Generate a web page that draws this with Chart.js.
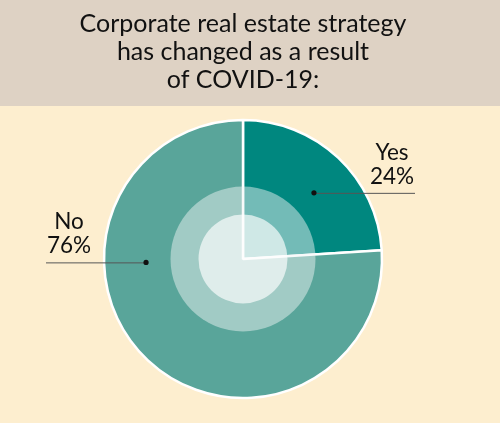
<!DOCTYPE html>
<html>
<head>
<meta charset="utf-8">
<script src="https://cdn.jsdelivr.net/npm/chart.js@4/dist/chart.umd.min.js"></script>
<style>
  html, body { margin: 0; padding: 0; background: #fdeecf; }
  #wrap { position: relative; width: 500px; height: 423px; }
</style>
</head>
<body>
<div id="wrap"><canvas id="chart"></canvas></div>
<script>
const categories = ["Yes", "No"];
const shares = [24, 76];
const sliceColors = ["#00877f", "#59a59a"];
const titleLines = ["Corporate real estate strategy", "has changed as a result", "of COVID-19:"];

// header band + cream background
const backdrop = {
  id: "backdrop",
  beforeDraw(chart) {
    const c = chart.ctx;
    c.save();
    c.fillStyle = "#fdeecf";
    c.fillRect(0, 0, chart.width, chart.height);
    c.fillStyle = "#ded2c4";
    c.fillRect(0, 0, chart.width, 106);
    c.restore();
  }
};

// the two pale discs in the middle of the pie
const innerDiscs = {
  id: "innerDiscs",
  afterDatasetsDraw(chart) {
    const arc = chart.getDatasetMeta(0).data[0];
    const c = chart.ctx;
    c.save();
    c.fillStyle = "rgba(240,245,245,0.48)";
    c.beginPath();
    c.arc(arc.x, arc.y, 72.5, 0, Math.PI * 2);
    c.fill();
    c.fillStyle = "rgba(255,255,255,0.66)";
    c.beginPath();
    c.arc(arc.x, arc.y, 44.5, 0, Math.PI * 2);
    c.fill();
    c.restore();
  }
};

// leader lines with labels
const leaders = {
  id: "leaders",
  afterDraw(chart, args, opts) {
    const meta = chart.getDatasetMeta(0);
    const c = chart.ctx;
    c.save();
    meta.data.forEach((arc, i) => {
      const a = opts.angles[i] * Math.PI / 180;
      const px = arc.x + Math.sin(a) * opts.dist;
      const py = arc.y - Math.cos(a) * opts.dist;
      const dir = Math.sin(a) >= 0 ? 1 : -1;
      const endX = dir > 0 ? opts.rightEnd : opts.leftEnd;
      c.strokeStyle = "#555";
      c.lineWidth = 1;
      c.beginPath();
      c.moveTo(px, py + 0.5);
      c.lineTo(endX, py + 0.5);
      c.stroke();
      c.fillStyle = "#111";
      c.beginPath();
      c.arc(px, py, 2.6, 0, Math.PI * 2);
      c.fill();
      const tx = endX - dir * 23;
      c.font = "22.5px Lato";
      c.textAlign = "center";
      c.textBaseline = "alphabetic";
      c.fillText(chart.data.labels[i], tx, py - 33);
      c.fillText(chart.data.datasets[0].data[i] + "%", tx, py - 9);
    });
    c.restore();
  }
};

new Chart(document.getElementById("chart"), {
  type: "pie",
  data: {
    labels: categories,
    datasets: [{
      data: shares,
      backgroundColor: sliceColors,
      borderColor: "#ffffff",
      borderWidth: 2.5,
      hoverOffset: 0
    }]
  },
  options: {
    responsive: true,
    maintainAspectRatio: false,
    animation: false,
    radius: 139,
    layout: { padding: { left: 0, right: 14, top: 0, bottom: 12 } },
    plugins: {
      legend: { display: false },
      tooltip: { enabled: false },
      title: {
        display: true,
        text: titleLines,
        color: "#111",
        font: { family: "Lato", size: 25, weight: "normal", lineHeight: 1.12 },
        padding: { top: 10, bottom: 13 }
      },
      leaders: { angles: [47, 268], dist: 97, rightEnd: 415, leftEnd: 46 }
    }
  },
  plugins: [backdrop, innerDiscs, leaders]
});
</script>
</body>
</html>
